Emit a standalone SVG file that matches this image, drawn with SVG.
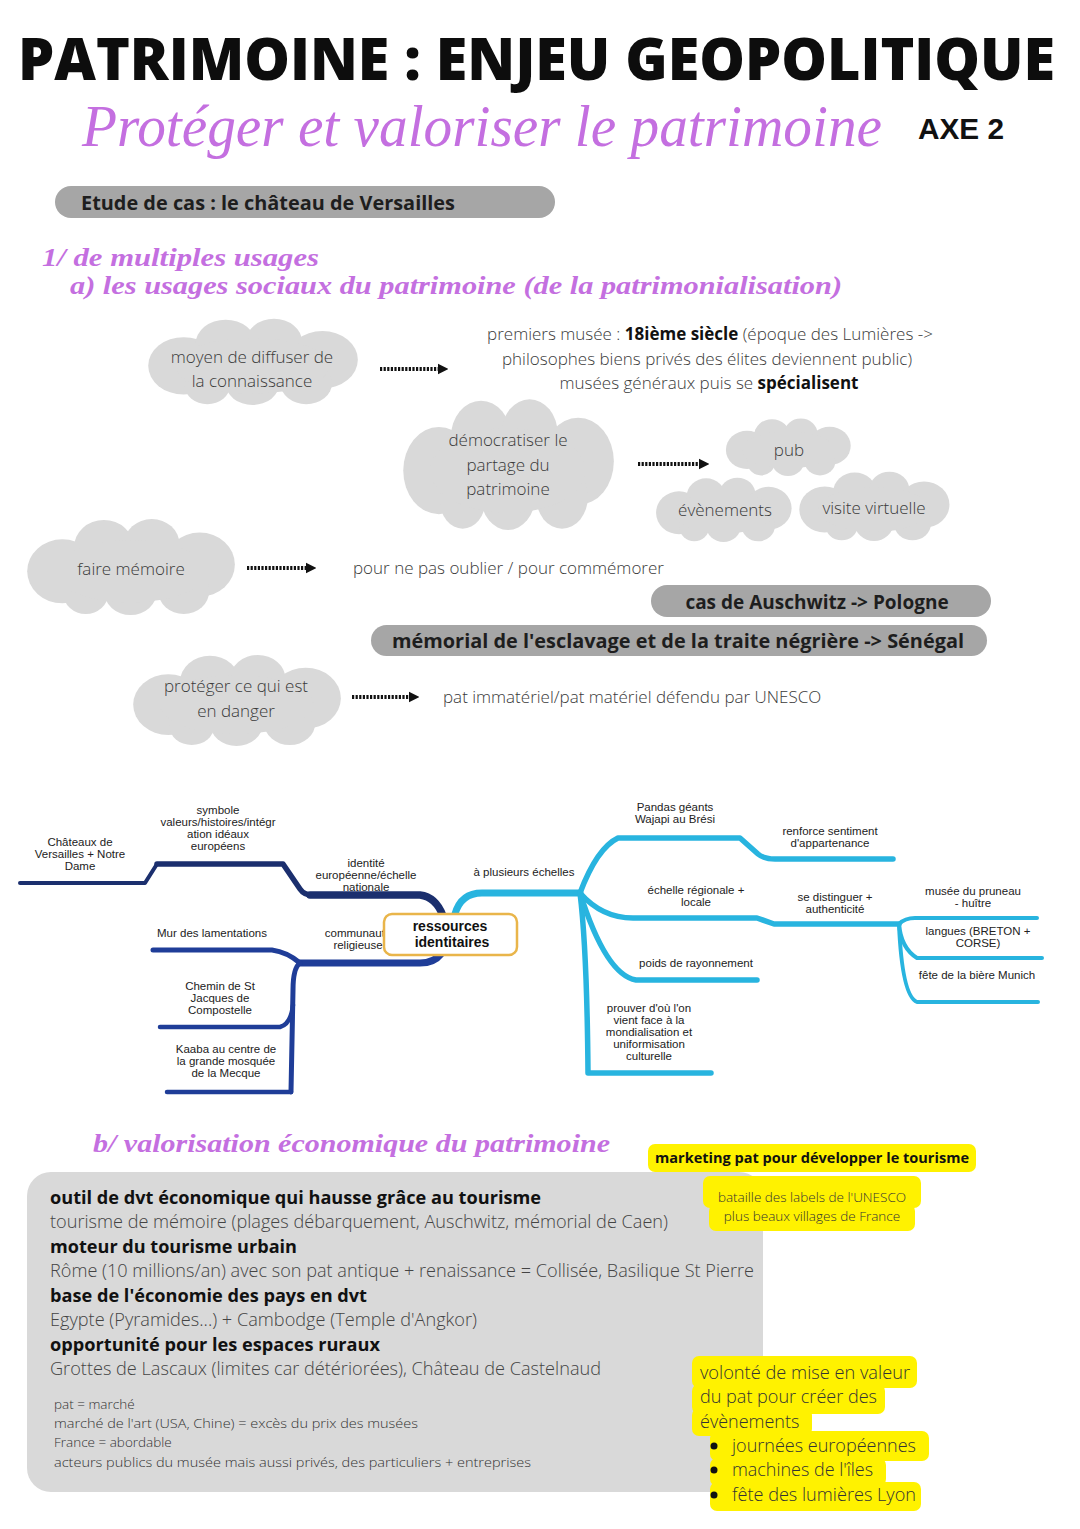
<svg xmlns="http://www.w3.org/2000/svg" xmlns:xlink="http://www.w3.org/1999/xlink" width="1080" height="1529" viewBox="0 0 1080 1529">
<style>
.title{font-family:"Open Sans","Noto Sans",sans-serif;font-weight:800;fill:#0d0d0d}
.script{font-family:"Liberation Serif","DejaVu Serif",serif;font-style:italic;fill:#c46fe0}
.h2{font-family:"Liberation Serif","DejaVu Serif",serif;font-style:italic;font-weight:bold;fill:#c46fe0}
.pilltxt{font-family:"Open Sans","Noto Sans",sans-serif;font-weight:700;font-size:19px;fill:#1e1e1e}
.pill{fill:#a6a6a6}
.cl{fill:#d9d9d9}
.ct{font-family:"Open Sans","Noto Sans",sans-serif;font-size:17px;fill:#3a3a3a;text-anchor:middle;font-weight:300}
.nt{font-family:"Open Sans","Noto Sans",sans-serif;font-size:17px;fill:#3a3a3a;font-weight:300}
.b{font-weight:700;fill:#111}
.dot{stroke:#111;stroke-width:4;stroke-dasharray:2.2 1.4;fill:none}
.mm{font-family:"Liberation Sans",Arial,sans-serif;font-size:11.5px;fill:#222;text-anchor:middle}
.nav{stroke:#1b2f6e;fill:none;stroke-linecap:round;stroke-linejoin:round}
.roy{stroke:#1f3d98;fill:none;stroke-linecap:round;stroke-linejoin:round}
.lb{stroke:#28b4df;fill:none;stroke-linecap:round;stroke-linejoin:round}
.bx{font-family:"Open Sans","Noto Sans",sans-serif;font-size:18px;fill:#444;font-weight:300}
.bxb{font-family:"Open Sans","Noto Sans",sans-serif;font-size:18px;fill:#111;font-weight:700}
.sm{font-family:"Open Sans","Noto Sans",sans-serif;font-size:13.5px;fill:#333;font-weight:300}
.hl{fill:#fff200}
.yt{font-family:"Open Sans","Noto Sans",sans-serif;fill:#333;font-weight:300}
</style>
<defs>
<symbol id="cloud" viewBox="0 0 200 100" preserveAspectRatio="none" overflow="visible">
<circle cx="36" cy="55" r="33"/>
<circle cx="75" cy="30" r="28"/>
<circle cx="120" cy="27" r="26"/>
<circle cx="165" cy="48" r="33"/>
<circle cx="150" cy="75" r="24"/>
<circle cx="100" cy="75" r="25"/>
<circle cx="58" cy="78" r="21"/>
<ellipse cx="100" cy="55" rx="72" ry="32"/>
</symbol>
<marker id="ah" viewBox="0 0 10 10" refX="2" refY="5" markerWidth="2.6" markerHeight="2.8" orient="auto" markerUnits="strokeWidth">
<path d="M0,0 L10,5 L0,10 z" fill="#111"/>
</marker>
</defs>
<rect width="1080" height="1529" fill="#fff"/>

<g id="header">
<text class="title" x="18" y="80" font-size="58" textLength="1037" lengthAdjust="spacingAndGlyphs">PATRIMOINE : ENJEU GEOPOLITIQUE</text>
<text class="script" x="82" y="146" font-size="60" textLength="800" lengthAdjust="spacingAndGlyphs">Protéger et valoriser le patrimoine</text>
<text x="918" y="139" font-family="Liberation Sans,Arial,sans-serif" font-weight="700" font-size="30" fill="#111" textLength="86" lengthAdjust="spacingAndGlyphs">AXE 2</text>
</g>

<g id="etude">
<rect class="pill" x="55" y="186" width="500" height="32" rx="16"/>
<text class="pilltxt" x="81" y="210" textLength="374" lengthAdjust="spacingAndGlyphs">Etude de cas : le château de Versailles</text>
</g>

<g id="section1">
<text class="h2" x="42" y="266" font-size="26" textLength="277" lengthAdjust="spacingAndGlyphs">1/ de multiples usages</text>
<text class="h2" x="70" y="294" font-size="26" textLength="772" lengthAdjust="spacingAndGlyphs">a) les usages sociaux du patrimoine (de la patrimonialisation)</text>
</g>

<g id="cloud-diffuser">
<use href="#cloud" class="cl" x="145" y="318" width="215" height="87"/>
<text class="ct" x="252" y="363">moyen de diffuser de</text>
<text class="ct" x="252" y="387">la connaissance</text>
</g>
<g id="txt-musee">
<text class="ct" x="710" y="340">premiers musée : <tspan class="b">18ième siècle</tspan> (époque des Lumières -&gt;</text>
<text class="ct" x="707" y="365">philosophes biens privés des élites deviennent public)</text>
<text class="ct" x="709" y="389">musées généraux puis se <tspan class="b">spécialisent</tspan></text>
</g>

<g id="cloud-democratiser">
<use href="#cloud" class="cl" x="400" y="398" width="216" height="132"/>
<text class="ct" x="508" y="446">démocratiser le</text>
<text class="ct" x="508" y="471">partage du</text>
<text class="ct" x="508" y="495">patrimoine</text>
</g>
<g id="cloud-pub">
<use href="#cloud" class="cl" x="724" y="418" width="128" height="58"/>
<text class="ct" x="789" y="456">pub</text>
</g>
<g id="cloud-evenements">
<use href="#cloud" class="cl" x="654" y="477" width="139" height="65"/>
<text class="ct" x="725" y="516">évènements</text>
</g>
<g id="cloud-visite">
<use href="#cloud" class="cl" x="797" y="471" width="154" height="70"/>
<text class="ct" x="874" y="514">visite virtuelle</text>
</g>

<g id="cloud-memoire">
<use href="#cloud" class="cl" x="24" y="518" width="213" height="97"/>
<text class="ct" x="131" y="575">faire mémoire</text>
</g>
<g id="txt-memoire">
<text class="nt" x="353" y="574">pour ne pas oublier / pour commémorer</text>
</g>
<g id="pill-auschwitz">
<rect class="pill" x="651" y="585" width="340" height="32" rx="16"/>
<text class="pilltxt" x="817" y="609" text-anchor="middle">cas de Auschwitz -&gt; Pologne</text>
</g>
<g id="pill-senegal">
<rect class="pill" x="371" y="625" width="616" height="31" rx="15.5"/>
<text class="pilltxt" x="678" y="648" text-anchor="middle" textLength="572" lengthAdjust="spacingAndGlyphs">mémorial de l'esclavage et de la traite négrière -&gt; Sénégal</text>
</g>

<g id="cloud-proteger">
<use href="#cloud" class="cl" x="130" y="654" width="213" height="92"/>
<text class="ct" x="236" y="692">protéger ce qui est</text>
<text class="ct" x="236" y="717">en danger</text>
</g>
<g id="txt-unesco">
<text class="nt" x="443" y="703">pat immatériel/pat matériel défendu par UNESCO</text>
</g>

<g id="arrows">
<line class="dot" x1="380" y1="369" x2="440" y2="369" marker-end="url(#ah)"/>
<line class="dot" x1="638" y1="464" x2="701" y2="464" marker-end="url(#ah)"/>
<line class="dot" x1="247" y1="568" x2="308" y2="568" marker-end="url(#ah)"/>
<line class="dot" x1="352" y1="697" x2="411" y2="697" marker-end="url(#ah)"/>
</g>

<g id="connectors">
<path class="nav" stroke-width="4" d="M20,883 L145,883 L157,864"/>
<path class="nav" stroke-width="5.5" d="M157,864 L283,864 L300,889 Q304,895 312,895"/>
<path class="nav" stroke-width="7.5" d="M310,895 L420,895 Q436,897 443,916"/>
<path class="roy" stroke-width="7" d="M441,954 Q434,963 420,963 L300,963"/>
<path class="roy" stroke-width="5" d="M153,950 L272,950 Q287,952 300,963"/>
<path class="roy" stroke-width="5" d="M300,963 Q293,968 293,990 L291,1092"/>
<path class="roy" stroke-width="4.5" d="M160,1027 L280,1027 Q291,1024 293,1005"/>
<path class="roy" stroke-width="4.5" d="M167,1092 L291,1092"/>
<path class="lb" stroke-width="7" d="M455,914 Q461,893 482,893 L580,893"/>
<path class="lb" stroke-width="5.5" d="M580,893 Q597,848 618,838 L740,838 L758,854 Q764,859 775,859 L893,859"/>
<path class="lb" stroke-width="5.5" d="M580,893 Q602,918 633,918 L757,918 L774,924 L899,924"/>
<path class="lb" stroke-width="4" d="M899,924 Q905,918 915,918 L1037,918"/>
<path class="lb" stroke-width="4" d="M899,924 Q901,948 917,958 L1042,958"/>
<path class="lb" stroke-width="4" d="M899,924 Q902,996 917,1002 L1038,1002"/>
<path class="lb" stroke-width="5.5" d="M580,893 Q606,975 636,980 L757,980"/>
<path class="lb" stroke-width="5.5" d="M580,893 Q587,950 588,1073 L711,1073"/>
</g>

<g id="mm-chateaux"><text class="mm" x="80" y="846">Châteaux de</text><text class="mm" x="80" y="858">Versailles + Notre</text><text class="mm" x="80" y="870">Dame</text></g>
<g id="mm-symbole"><text class="mm" x="218" y="814">symbole</text><text class="mm" x="218" y="826">valeurs/histoires/intégr</text><text class="mm" x="218" y="838">ation idéaux</text><text class="mm" x="218" y="850">européens</text></g>
<g id="mm-identite"><text class="mm" x="366" y="867">identité</text><text class="mm" x="366" y="879">européenne/échelle</text><text class="mm" x="366" y="891">nationale</text></g>
<g id="mm-mur"><text class="mm" x="212" y="937">Mur des lamentations</text></g>
<g id="mm-communaute"><text class="mm" x="358" y="937">communauté</text><text class="mm" x="358" y="949">religieuse</text></g>
<g id="mm-chemin"><text class="mm" x="220" y="990">Chemin de St</text><text class="mm" x="220" y="1002">Jacques de</text><text class="mm" x="220" y="1014">Compostelle</text></g>
<g id="mm-kaaba"><text class="mm" x="226" y="1053">Kaaba au centre de</text><text class="mm" x="226" y="1065">la grande mosquée</text><text class="mm" x="226" y="1077">de la Mecque</text></g>

<g id="node-ressources">
<rect x="384" y="914" width="133" height="41" rx="8" fill="#fff" stroke="#e9b54a" stroke-width="2.5"/>
<text x="450" y="931" font-family="Liberation Sans,Arial,sans-serif" font-weight="700" font-size="14" fill="#111" text-anchor="middle">ressources</text>
<text x="452" y="947" font-family="Liberation Sans,Arial,sans-serif" font-weight="700" font-size="14" fill="#111" text-anchor="middle">identitaires</text>
</g>

<g id="mm-echelles"><text class="mm" x="524" y="876">à plusieurs échelles</text></g>
<g id="mm-pandas"><text class="mm" x="675" y="811">Pandas géants</text><text class="mm" x="675" y="823">Wajapi au Brési</text></g>
<g id="mm-renforce"><text class="mm" x="830" y="835">renforce sentiment</text><text class="mm" x="830" y="847">d'appartenance</text></g>
<g id="mm-regionale"><text class="mm" x="696" y="894">échelle régionale +</text><text class="mm" x="696" y="906">locale</text></g>
<g id="mm-distinguer"><text class="mm" x="835" y="901">se distinguer +</text><text class="mm" x="835" y="913">authenticité</text></g>
<g id="mm-pruneau"><text class="mm" x="973" y="895">musée du pruneau</text><text class="mm" x="973" y="907">- huître</text></g>
<g id="mm-langues"><text class="mm" x="978" y="935">langues (BRETON +</text><text class="mm" x="978" y="947">CORSE)</text></g>
<g id="mm-biere"><text class="mm" x="977" y="979">fête de la bière Munich</text></g>
<g id="mm-rayonnement"><text class="mm" x="696" y="967">poids de rayonnement</text></g>
<g id="mm-prouver"><text class="mm" x="649" y="1012">prouver d'où l'on</text><text class="mm" x="649" y="1024">vient face à la</text><text class="mm" x="649" y="1036">mondialisation et</text><text class="mm" x="649" y="1048">uniformisation</text><text class="mm" x="649" y="1060">culturelle</text></g>

<g id="section-b">
<text class="h2" x="93" y="1152" font-size="26" textLength="517" lengthAdjust="spacingAndGlyphs">b/ valorisation économique du patrimoine</text>
</g>

<g id="box-eco">
<rect x="27" y="1172" width="736" height="320" rx="24" fill="#d9d9d9"/>
<text class="bxb" x="50" y="1204" textLength="491" lengthAdjust="spacingAndGlyphs">outil de dvt économique qui hausse grâce au tourisme</text>
<text class="bx" x="50" y="1228" textLength="618" lengthAdjust="spacingAndGlyphs">tourisme de mémoire (plages débarquement, Auschwitz, mémorial de Caen)</text>
<text class="bxb" x="50" y="1253" textLength="247" lengthAdjust="spacingAndGlyphs">moteur du tourisme urbain</text>
<text class="bx" x="50" y="1277" textLength="704" lengthAdjust="spacingAndGlyphs">Rôme (10 millions/an) avec son pat antique + renaissance = Collisée, Basilique St Pierre</text>
<text class="bxb" x="50" y="1302" textLength="317" lengthAdjust="spacingAndGlyphs">base de l'économie des pays en dvt</text>
<text class="bx" x="50" y="1326" textLength="427" lengthAdjust="spacingAndGlyphs">Egypte (Pyramides...) + Cambodge (Temple d'Angkor)</text>
<text class="bxb" x="50" y="1351" textLength="330" lengthAdjust="spacingAndGlyphs">opportunité pour les espaces ruraux</text>
<text class="bx" x="50" y="1375" textLength="551" lengthAdjust="spacingAndGlyphs">Grottes de Lascaux (limites car détériorées), Château de Castelnaud</text>
<text class="sm" x="54" y="1409">pat = marché</text>
<text class="sm" x="54" y="1428" textLength="364" lengthAdjust="spacingAndGlyphs">marché de l'art (USA, Chine) = excès du prix des musées</text>
<text class="sm" x="54" y="1447">France = abordable</text>
<text class="sm" x="54" y="1467" textLength="477" lengthAdjust="spacingAndGlyphs">acteurs publics du musée mais aussi privés, des particuliers + entreprises</text>
</g>

<g id="hl-marketing">
<rect class="hl" x="648" y="1144" width="328" height="28" rx="7"/>
<text x="655" y="1163" font-family="Open Sans,Noto Sans,sans-serif" font-weight="700" font-size="14.5" fill="#111" textLength="314" lengthAdjust="spacingAndGlyphs">marketing pat pour développer le tourisme</text>
</g>
<g id="hl-labels">
<rect class="hl" x="703" y="1176" width="218" height="32" rx="7"/>
<rect class="hl" x="709" y="1204" width="206" height="27" rx="7"/>
<text class="yt" x="812" y="1202" font-size="13.5" text-anchor="middle">bataille des labels de l'UNESCO</text>
<text class="yt" x="812" y="1221" font-size="13.5" text-anchor="middle">plus beaux villages de France</text>
</g>
<g id="hl-volonte">
<rect class="hl" x="692" y="1356" width="225" height="32" rx="7"/>
<rect class="hl" x="692" y="1384" width="193" height="30" rx="7"/>
<rect class="hl" x="692" y="1408" width="120" height="28" rx="7"/>
<rect class="hl" x="710" y="1431" width="219" height="30" rx="7"/>
<rect class="hl" x="710" y="1458" width="176" height="28" rx="7"/>
<rect class="hl" x="710" y="1482" width="211" height="29" rx="7"/>
<text class="yt" x="700" y="1379" font-size="18" textLength="210" lengthAdjust="spacingAndGlyphs">volonté de mise en valeur</text>
<text class="yt" x="700" y="1403" font-size="18" textLength="177" lengthAdjust="spacingAndGlyphs">du pat pour créer des</text>
<text class="yt" x="700" y="1428" font-size="18">évènements</text>
<circle cx="714" cy="1446" r="3.5" fill="#111"/>
<circle cx="714" cy="1470" r="3.5" fill="#111"/>
<circle cx="714" cy="1495" r="3.5" fill="#111"/>
<text class="yt" x="732" y="1452" font-size="18" textLength="184" lengthAdjust="spacingAndGlyphs">journées européennes</text>
<text class="yt" x="732" y="1476" font-size="18" textLength="141" lengthAdjust="spacingAndGlyphs">machines de l'îles</text>
<text class="yt" x="732" y="1501" font-size="18" textLength="184" lengthAdjust="spacingAndGlyphs">fête des lumières Lyon</text>
</g>
</svg>
